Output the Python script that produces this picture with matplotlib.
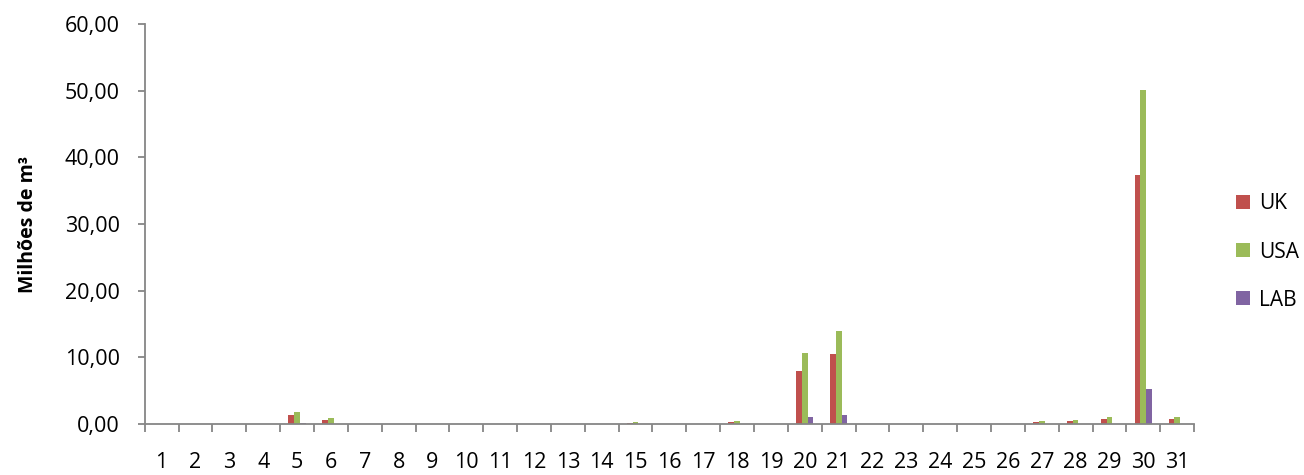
import numpy as np
import matplotlib.pyplot as plt
import matplotlib.ticker as mticker

# -----------------------------
# Data (milhões de m³ per day)
# -----------------------------
days = list(range(1, 32))
uk = [0, 0, 0, 0, 1.35, 0.65, 0, 0, 0, 0, 0, 0, 0, 0, 0.1, 0, 0, 0.3, 0, 7.9,
      10.5, 0, 0, 0, 0, 0, 0.25, 0.4, 0.7, 37.4, 0.7]
usa = [0, 0, 0, 0, 1.75, 0.9, 0, 0, 0, 0, 0, 0, 0, 0, 0.25, 0, 0, 0.4, 0, 10.6,
       14.0, 0, 0, 0, 0, 0, 0.4, 0.55, 1.0, 50.1, 1.0]
lab = [0, 0, 0, 0, 0.1, 0, 0, 0, 0, 0, 0, 0, 0, 0, 0, 0, 0, 0, 0, 1.0,
       1.4, 0, 0, 0, 0, 0, 0, 0, 0, 5.25, 0]
series = [("UK", uk, "#C0504D"), ("USA", usa, "#9BBB59"), ("LAB", lab, "#8064A2")]
yticks = [0, 10, 20, 30, 40, 50, 60]

# -----------------------------
# Figure
# -----------------------------
plt.rcParams['font.family'] = ['Open Sans', 'DejaVu Sans']
fig = plt.figure(figsize=(13.04, 4.75), dpi=100)
ax = fig.add_axes([0.111, 0.1074, 0.8047, 0.8421])

x = np.array(days)
w = 0.17
for i, (name, vals, col) in enumerate(series):
    ax.bar(x + (i - 1) * w, vals, width=w, color=col, label=name, zorder=2)

# -----------------------------
# Axes styling
# -----------------------------
axis_col = "#868686"
ax.set_xlim(0.5, 31.5)
ax.set_ylim(0, 60)
ax.set_yticks(yticks)
ax.yaxis.set_major_formatter(mticker.FuncFormatter(lambda v, _: f"{v:.2f}".replace(".", ",")))

ax.set_xticks(np.arange(0.5, 32, 1))
ax.set_xticklabels([])
ax.set_xticks(x, minor=True)
ax.set_xticklabels([str(d) for d in days], minor=True)
ax.tick_params(axis='x', which='major', direction='out', length=6, color=axis_col, width=1.3)
ax.tick_params(axis='x', which='minor', length=0, pad=20, labelsize=15.5)
ax.tick_params(axis='y', direction='out', length=5, color=axis_col, width=1.3, pad=13, labelsize=15.5)

for s in ['top', 'right']:
    ax.spines[s].set_visible(False)
for s in ['left', 'bottom']:
    ax.spines[s].set_color(axis_col)
    ax.spines[s].set_linewidth(1.3)

ax.set_ylabel("Milhões de m³", fontsize=14, fontweight='bold')
ax.yaxis.set_label_coords(-0.102, 0.5)

ax.legend(loc='center left', bbox_to_anchor=(1236 / 1304, 1 - 252 / 475),
          bbox_transform=fig.transFigure, frameon=False, fontsize=15,
          borderaxespad=0, borderpad=0,
          handlelength=0.65, handleheight=0.65, handletextpad=0.45, labelspacing=1.3)

fig.savefig("out.png", dpi=100)
